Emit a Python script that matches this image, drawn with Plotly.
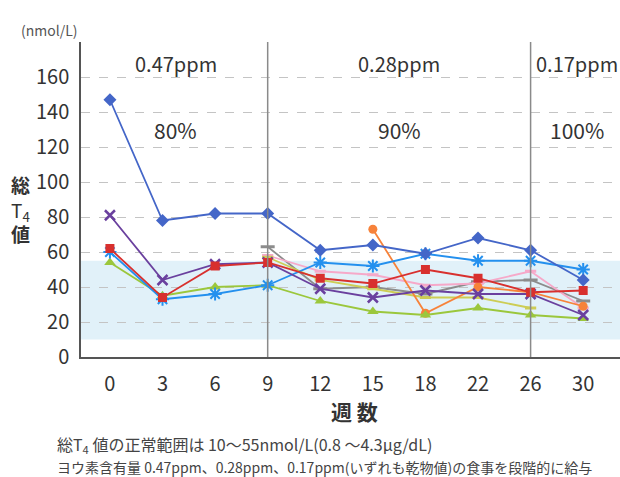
import plotly.graph_objects as go

# Weeks on feed (category axis)
weeks = ["0", "3", "6", "9", "12", "15", "18", "22", "26", "30"]

# Total T4 per cat (nmol/L); None = not measured yet
cat_diamond = [147, 78, 82, 82, 61, 64, 59, 68, 61, 44]
cat_asterisk = [60, 33, 36, 41, 54, 52, 59, 55, 55, 50]
cat_square = [62, 34, 52, 54, 45, 42, 50, 45, 37, 38]
cat_cross = [81, 44, 53, 54, 39, 34, 38, 36, 36, 24]
cat_triangle = [54, 35, 40, 41, 32, 26, 24, 28, 24, 22]
cat_gray = [None, None, None, 63, 39, 40, 36, 43, 44, 32]
cat_pink = [None, None, None, 58, 49, 47, 41, 42, 49, 28]
cat_olive = [None, None, None, 57, 44, 39, 34, 34, 28, None]
cat_orange = [None, None, None, None, None, 73, 25, 40, 37, 29]

# Normal range of total T4 (nmol/L)
normal_low, normal_high = 10, 55

# Iodine phases: label, share label, centre position (category index)
phase_ppm = ["0.47ppm", "0.28ppm", "0.17ppm"]
phase_pct = ["80%", "90%", "100%"]
phase_pos = [1.25, 5.5, 8.88]
phase_breaks = ["9", "26"]

y_ticks = [0, 20, 40, 60, 80, 100, 120, 140, 160]

FONT = "Noto Sans CJK JP"

series = [
    (cat_gray, "#8c8c8c", "line-ew-open", 10, 3),
    (cat_pink, "#f6a9c9", "line-ew-open", 8, 3),
    (cat_olive, "#cdcd55", "line-ew-open", 8, 3),
    (cat_orange, "#f7823a", "circle", 9, 0),
    (cat_triangle, "#9bc73c", "triangle-up", 10, 0),
    (cat_asterisk, "#2490ee", "asterisk-open", 11, 2),
    (cat_cross, "#6a409e", "x-thin-open", 10, 2.5),
    (cat_square, "#d8302e", "square", 9, 0),
    (cat_diamond, "#4466c8", "diamond", 10, 0),
]

fig = go.Figure()
for vals, color, symbol, size, lw in series:
    marker = dict(symbol=symbol, size=size, color=color)
    if lw:
        marker["line"] = dict(color=color, width=lw)
    fig.add_trace(go.Scatter(
        x=weeks, y=vals, mode="lines+markers",
        line=dict(color=color, width=1.8),
        marker=marker, connectgaps=False, showlegend=False,
    ))

# Normal-range band
fig.add_shape(type="rect", xref="paper", x0=0, x1=1, yref="y",
              y0=normal_low, y1=normal_high, fillcolor="#e1f1f9",
              line=dict(width=0), layer="below")

# Phase separators (placed at the category's index on the axis)
for b in phase_breaks:
    idx = weeks.index(b)
    fig.add_shape(type="line", xref="x", x0=idx, x1=idx, yref="paper", y0=0, y1=1,
                  line=dict(color="#8a8a8a", width=1.5))

for txt, pos in zip(phase_ppm, phase_pos):
    fig.add_annotation(x=pos, y=168, xref="x", yref="y", text=txt, showarrow=False,
                       xanchor="center", yanchor="middle",
                       font=dict(family=FONT, size=20, color="#333"))
for txt, pos in zip(phase_pct, phase_pos):
    fig.add_annotation(x=pos, y=129.5, xref="x", yref="y", text=txt, showarrow=False,
                       xanchor="center", yanchor="middle",
                       font=dict(family=FONT, size=21, color="#333"))

fig.add_annotation(x=-0.059, y=1.038, xref="paper", yref="paper", text="(nmol/L)",
                   showarrow=False, xanchor="center", yanchor="middle",
                   font=dict(family=FONT, size=14, color="#555"))
fig.add_annotation(x=-0.113, y=0.47, xref="paper", yref="paper",
                   text="<b>総</b><br>T<sub>4</sub><br><b>値</b>", showarrow=False,
                   xanchor="center", yanchor="middle",
                   font=dict(family=FONT, size=19, color="#333"))
fig.add_annotation(x=0.508, y=-0.171, xref="paper", yref="paper", text="<b>週 数</b>",
                   showarrow=False, xanchor="center", yanchor="middle",
                   font=dict(family=FONT, size=21, color="#333"))
fig.add_annotation(x=-0.048, y=-0.279, xref="paper", yref="paper",
                   xanchor="left", yanchor="middle",
                   text="総T<sub>4</sub> 値の正常範囲は 10～55nmol/L(0.8 ～4.3μg/dL)",
                   showarrow=False, font=dict(family=FONT, size=16, color="#444"))
fig.add_annotation(x=-0.048, y=-0.349, xref="paper", yref="paper",
                   xanchor="left", yanchor="middle",
                   text="ヨウ素含有量 0.47ppm、0.28ppm、0.17ppm(いずれも乾物値)の食事を段階的に給与",
                   showarrow=False, font=dict(family=FONT, size=14, color="#444"))

fig.update_layout(
    width=620, height=477,
    margin=dict(l=81, r=0, t=42, b=120),
    paper_bgcolor="white", plot_bgcolor="white",
    font=dict(family=FONT, color="#333"),
    xaxis=dict(type="category", categoryorder="array", categoryarray=weeks,
               range=[-0.55, 9.7], showgrid=False, showline=True,
               linecolor="#555", linewidth=1.5, ticks="", zeroline=False,
               tickfont=dict(size=20, color="#333"), ticklabelstandoff=8),
    yaxis=dict(range=[0, 180], tickvals=y_ticks, showgrid=True,
               gridcolor="#c4c4c4", griddash="dash", gridwidth=1,
               showline=True, linecolor="#555", linewidth=1.5, ticks="",
               zeroline=False, tickfont=dict(size=20, color="#333"),
               ticklabelstandoff=6),
)

fig.write_html("out.html")
